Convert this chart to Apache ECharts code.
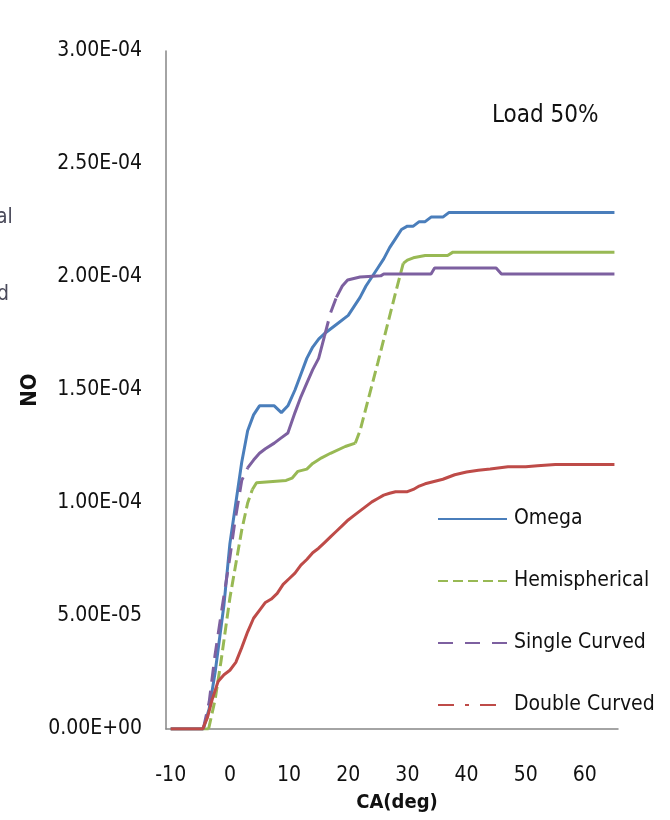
<!DOCTYPE html>
<html><head><meta charset="utf-8">
<script src="https://cdn.jsdelivr.net/npm/echarts@6/dist/echarts.min.js"></script>
<style>html,body{margin:0;padding:0;background:#fff}#c{width:670px;height:820px}</style>
</head><body><div id="c"></div>
<script>
// ---- data (CA in deg, NO mass fraction) ----
const caTicks = [-10, 0, 10, 20, 30, 40, 50, 60];
const seriesNames = ['Omega', 'Hemispherical', 'Single Curved', 'Double Curved'];

const omega = [[-10,0],[-4.5,0],[-3.5,9e-6],[-2.5,25e-6],[-1,55e-6],[0,82e-6],[1,100e-6],[2,118e-6],[3,132e-6],[4,139e-6],[5,143e-6],[7.5,143e-6],[8.7,140e-6],[9.8,143e-6],[11,150e-6],[12,157e-6],[13,164e-6],[14,169e-6],[15,172.5e-6],[16,175e-6],[18,179e-6],[20,183e-6],[21,187e-6],[22,191e-6],[23,196e-6],[24,200e-6],[25,204e-6],[26,208e-6],[27,213e-6],[28,217e-6],[29,221e-6],[30,222.5e-6],[31,222.5e-6],[32,224.5e-6],[33,224.5e-6],[34,226.5e-6],[36,226.5e-6],[37,228.5e-6],[65,228.5e-6]];

const hemispherical = [[-10,0],[-3.6,0],[-2.5,13e-6],[-1.5,30e-6],[0,58e-6],[1,73e-6],[2,88e-6],[3,100e-6],[3.8,106e-6],[4.5,109e-6],[9.5,110e-6],[10.5,111e-6],[11.5,114e-6],[13,115e-6],[14,117.5e-6],[15.5,120e-6],[17,122e-6],[19.5,125e-6],[21.2,126.5e-6],[22,132e-6],[25,162e-6],[28,193e-6],[29.3,206e-6],[30,207.5e-6],[31,208.5e-6],[33,209.5e-6],[36.8,209.5e-6],[37.7,211e-6],[65,211e-6]];

const singleCurved = [[-10,0],[-4.5,0],[-3.5,12e-6],[-2.5,33e-6],[-1.3,54e-6],[0,76e-6],[0.8,91e-6],[2,110e-6],[3,115.5e-6],[4,119e-6],[5,122e-6],[6,124e-6],[7.5,126.5e-6],[8.5,128.5e-6],[9.8,131e-6],[11,140e-6],[12,147e-6],[13,153e-6],[14,159e-6],[15,164e-6],[16,174e-6],[17,184e-6],[18,191e-6],[19,196e-6],[19.9,198.7e-6],[22,200e-6],[25.5,200.5e-6],[26,201.3e-6],[34,201.3e-6],[34.6,204e-6],[45,204e-6],[45.9,201.3e-6],[65,201.3e-6]];

const doubleCurved = [[-10,0],[-4.6,0],[-3.8,5e-6],[-3,13e-6],[-2,21e-6],[-1,24e-6],[0,26e-6],[1,29.5e-6],[2,36e-6],[3,43e-6],[4,49e-6],[5,52.5e-6],[6,56e-6],[7,57.5e-6],[8,60e-6],[9,64e-6],[10,66.5e-6],[11,69e-6],[12,72.5e-6],[13,75e-6],[14,78e-6],[15,80e-6],[16,82.5e-6],[17,85e-6],[18,87.5e-6],[19,90e-6],[20,92.5e-6],[21,94.5e-6],[22,96.5e-6],[23,98.5e-6],[24,100.5e-6],[25,102e-6],[26,103.5e-6],[27,104.3e-6],[28,105e-6],[30,105e-6],[31,106e-6],[32,107.5e-6],[33,108.5e-6],[34,109.2e-6],[36,110.5e-6],[38,112.5e-6],[40,113.7e-6],[42,114.5e-6],[44,115e-6],[47,116e-6],[50,116e-6],[52,116.5e-6],[55,117e-6],[65,117e-6]];

// ---- styling ----
const FONT = "'Liberation Sans Narrow','Arial Narrow','DejaVu Sans Condensed',sans-serif";
const TXT = '#111';
const defs = [
  {name: seriesNames[0], data: omega, color: '#4A7EBB', dashed: [], chartDash: 'solid', legendDash: 'solid'},
  {name: seriesNames[1], data: hemispherical, color: '#98B954', dashed: [[-3.7, 3.9], [21.1, 29.4]], chartDash: [11, 5], legendDash: [10, 5]},
  {name: seriesNames[2], data: singleCurved, color: '#7D60A0', dashed: [[-4.6, 3.1], [16, 18]], chartDash: [15, 9], legendDash: [15, 12]},
  {name: seriesNames[3], data: doubleCurved, color: '#BE4B48', dashed: [], chartDash: 'solid', legendDash: [16, 11, 4, 11]}
];

function split(data, ranges) {
  const segs = [];
  let cur = [data[0]], curDash = null;
  for (let i = 0; i < data.length - 1; i++) {
    const mid = (data[i][0] + data[i + 1][0]) / 2;
    const dash = ranges.some(r => mid > r[0] && mid < r[1]);
    if (curDash === null) curDash = dash;
    if (dash !== curDash) { segs.push({dash: curDash, pts: cur}); cur = [data[i]]; curDash = dash; }
    cur.push(data[i + 1]);
  }
  segs.push({dash: curDash, pts: cur});
  return segs;
}

const series = [];
defs.forEach(d => {
  const segs = split(d.data, d.dashed);
  segs.forEach((s, k) => {
    series.push({
      name: k === 0 ? d.name : d.name + ' #' + k,
      type: 'line', symbol: 'none', showSymbol: false, silent: true,
      data: s.pts, z: 3,
      lineStyle: {color: d.color, width: 3, type: s.dash ? d.chartDash : 'solid'},
      itemStyle: {color: d.color}
    });
  });
});

function fmt(v) {
  let s = Number(v).toExponential(2).toUpperCase();
  return s.replace(/E([+-])(\d)$/, 'E$10$2');
}

const chart = echarts.init(document.getElementById('c'), null, {renderer: 'canvas'});
chart.setOption({
  animation: false,
  backgroundColor: '#fff',
  grid: {left: 166, right: 52, top: 51, bottom: 91, containLabel: false, outerBoundsMode: 'none'},
  xAxis: {
    type: 'value', min: -10.8, max: 65.6,
    axisLine: {show: true, onZero: false, lineStyle: {color: '#868686', width: 1.5}},
    axisTick: {show: false}, splitLine: {show: false},
    axisLabel: {customValues: caTicks, fontSize: 21, fontFamily: FONT, color: TXT, margin: 36},
    name: 'CA(deg)', nameLocation: 'middle', nameGap: 64, nameMoveOverlap: false,
    nameTextStyle: {fontWeight: 'bold', fontSize: 20, fontFamily: FONT, color: TXT, padding: [0, 0, 0, 10]}
  },
  yAxis: {
    type: 'value', min: 0, max: 3e-4, interval: 5e-5,
    axisLine: {show: true, onZero: false, lineStyle: {color: '#868686', width: 1.5}},
    axisTick: {show: false}, splitLine: {show: false},
    axisLabel: {formatter: fmt, fontSize: 21, fontFamily: FONT, color: TXT, margin: 24},
    name: 'NO', nameLocation: 'middle', nameGap: 125, nameRotate: 90, nameMoveOverlap: false,
    nameTextStyle: {fontWeight: 'bold', fontSize: 22, fontFamily: FONT, color: TXT}
  },
  legend: {
    orient: 'vertical', left: 437, top: 504, padding: 0,
    itemWidth: 69, itemHeight: 14, itemGap: 32,
    selectedMode: false,
    itemStyle: {color: 'rgba(0,0,0,0)', opacity: 0, borderWidth: 0},
    textStyle: {fontSize: 21, fontFamily: FONT, color: TXT, lineHeight: 30, padding: [0, 0, 0, 2]},
    data: defs.map(d => ({name: d.name, lineStyle: {type: d.legendDash}}))
  },
  graphic: [
    {type: 'text', left: 492, top: 104, style: {text: 'Load 50%', font: "24px " + FONT, fill: TXT}},
    {type: 'text', x: -4, y: 218, style: {text: 'al', font: "21px " + FONT, fill: '#4a4a5a', verticalAlign: 'middle'}},
    {type: 'text', x: -3, y: 295, style: {text: 'd', font: "21px " + FONT, fill: '#4a4a5a', verticalAlign: 'middle'}}
  ],
  series: series
});
</script></body></html>
